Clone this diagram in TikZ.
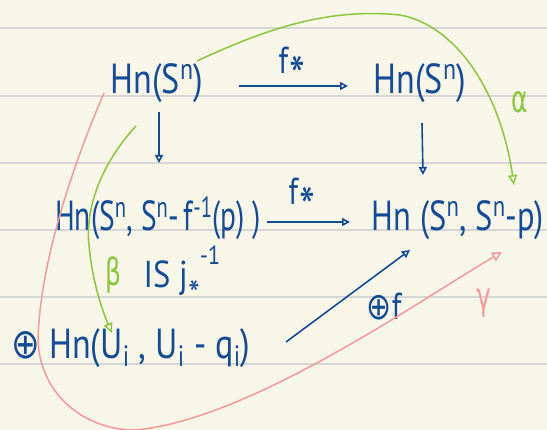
\documentclass[tikz,border=0pt]{standalone}
\usepackage{fontspec}
\usepackage{graphicx}
\setmainfont{PT Sans}
\newfontfamily\symfont{DejaVu Sans}
\usetikzlibrary{arrows.meta,calc}
\definecolor{paper}{HTML}{F8F6E9}
\definecolor{rulegray}{HTML}{D6D6D6}
\definecolor{ink}{HTML}{154A94}
\definecolor{leaf}{HTML}{8CC63C}
\definecolor{rose}{HTML}{F59A9A}
\newcommand{\hw}[2][1]{\scalebox{#1}[1.5]{#2}}
\newcommand{\fst}{f\kern1pt\raisebox{-1.2ex}{\scalebox{1.5}{*}}}
\newcommand{\jst}{j\kern0.5pt\raisebox{-1.1ex}{*}\raisebox{1.2ex}{\scalebox{0.7}{-1}}}
\begin{document}
\begin{tikzpicture}[x=1pt,y=-1pt,
  txt/.style={text=ink,inner sep=0pt,font=\fontsize{28}{30}\selectfont},
  lbl/.style={inner sep=0pt,font=\fontsize{25}{27}\selectfont},
  arr/.style={draw=ink,line width=1.6pt,-{Triangle[open,length=8pt,width=8pt]}},
  greenarr/.style={draw=leaf,line width=1.5pt,-{Triangle[open,length=10pt,width=9pt]}},
  pinkarr/.style={draw=rose,line width=1.5pt,-{Triangle[open,length=10pt,width=10pt]}}
]
\fill[paper] (0,0) rectangle (547,430);
\useasboundingbox (0,0) rectangle (547,430);
\foreach \yy in {28,96,163,230,297,364} \draw[rulegray,line width=1.1pt] (0,\yy) -- (547,\yy);

% nodes
\node[txt] (A) at (157,83) {\hw[1.22]{Hn(S\textsuperscript{n})}};
\node[txt] (B) at (420,83) {\hw[1.22]{Hn(S\textsuperscript{n})}};
\node[txt] (C) at (158,218) {\hw[1.05]{Hn(S\textsuperscript{n}, S\textsuperscript{n}-\,f\textsuperscript{-1}(p) )}};
\node[txt] (D) at (458,220) {\hw[1.16]{Hn (S\textsuperscript{n}, S\textsuperscript{n}-p)}};
\node[txt] (E) at (131,348) {\hw[1.22]{{\symfont ⊕} Hn(U\textsubscript{i} , U\textsubscript{i} - q\textsubscript{i})}};

% labels
\node[lbl,text=ink] (l1) at (292,72) {\hw[1.2]{\fst}};
\node[lbl,text=ink] (l2) at (302,203) {\hw[1.2]{\fst}};
\node[lbl,text=ink] (l3) at (384,307) {\hw[1.2]{{\symfont ⊕}f}};
\node[lbl,text=leaf] (la) at (520,102) {\hw{\symfont α}};
\node[lbl,text=leaf] (lb) at (113,275) {\hw{\symfont β}};
\node[lbl,text=ink] (lj) at (182,277) {\hw[1.3]{IS \jst}};
\node[lbl,text=rose] (lg) at (484,303) {\hw{\symfont γ}};

% straight arrows
\draw[arr] ($(A)+(82,3)$) -- ($(B)+(-72,3)$);
\draw[arr] ($(A)+(2,29)$) -- ($(C)+(1,-55)$);
\draw[arr] ($(B)+(2,40)$) -- ($(D)+(-35,-45)$);
\draw[arr] ($(C)+(109,4)$) -- ($(D)+(-108,2)$);
\draw[arr] ($(E)+(155,-6)$) -- ($(D)+(-48,30)$);

% curved arrows
\draw[greenarr] ($(A)+(40,-22)$) .. controls (270,27) and (330,8) .. (400,15)
   .. controls (455,25) and (500,90) .. ($(D)+(56,-35)$);
\draw[greenarr] ($(A)+(-21,43)$) .. controls (100,165) and (85,210) .. (89,245)
   .. controls (92,280) and (102,310) .. ($(E)+(-19,-15)$);
\draw[pinkarr] ($(A)+(-53,10)$) .. controls (75,160) and (40,260) .. (38,340)
   .. controls (40,395) and (85,430) .. (135,430)
   .. controls (250,420) and (420,300) .. ($(D)+(44,32)$);
\end{tikzpicture}
\end{document}
